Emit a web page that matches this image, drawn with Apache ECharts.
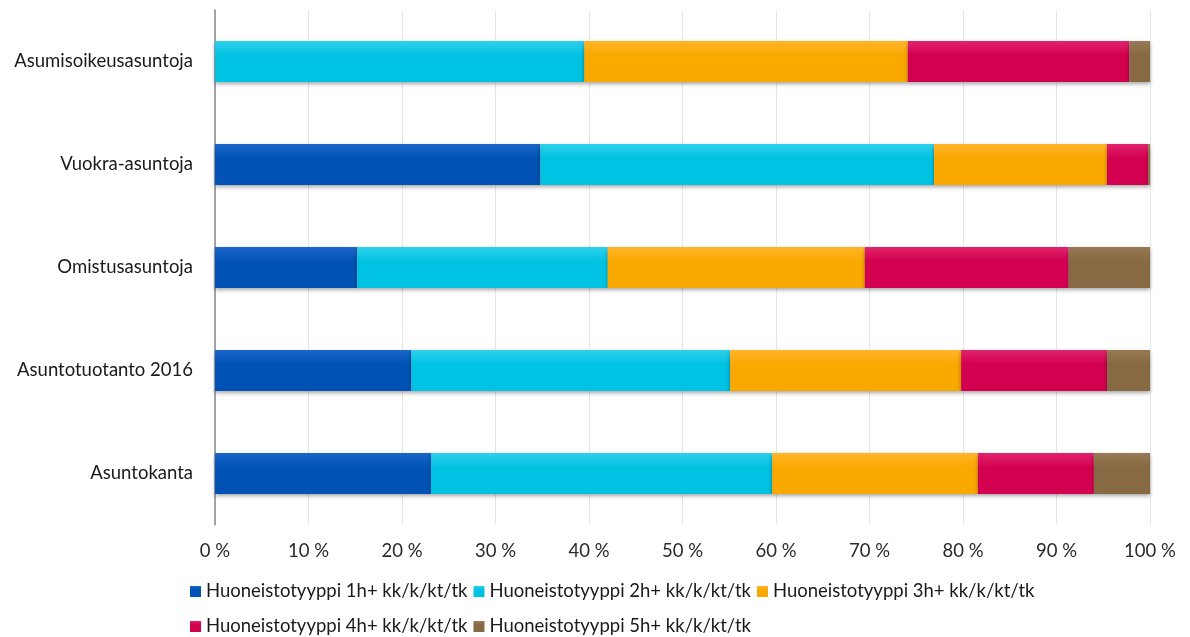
<!DOCTYPE html>
<html>
<head>
<meta charset="utf-8">
<script src="https://cdn.jsdelivr.net/npm/echarts@6/dist/echarts.min.js"></script>
<style>
  html, body { margin: 0; padding: 0; background: #ffffff; }
  #chart { width: 1190px; height: 637px; }
</style>
</head>
<body>
<div id="chart"></div>
<script>
// Housing stock by apartment type (share of each group, %)
const categories = ['Asumisoikeusasuntoja', 'Vuokra-asuntoja', 'Omistusasuntoja', 'Asuntotuotanto 2016', 'Asuntokanta'];
const seriesNames = [
  'Huoneistotyyppi 1h+ kk/k/kt/tk',
  'Huoneistotyyppi 2h+ kk/k/kt/tk',
  'Huoneistotyyppi 3h+ kk/k/kt/tk',
  'Huoneistotyyppi 4h+ kk/k/kt/tk',
  'Huoneistotyyppi 5h+ kk/k/kt/tk'
];
const type1h = [0.0, 34.8, 15.2, 21.0, 23.1];
const type2h = [39.5, 42.1, 26.8, 34.1, 36.5];
const type3h = [34.6, 18.5, 27.5, 24.7, 22.0];
const type4h = [23.7, 4.4, 21.8, 15.6, 12.4];
const type5h = [2.2, 0.2, 8.7, 4.6, 6.0];
const xTicks = [0, 10, 20, 30, 40, 50, 60, 70, 80, 90, 100];

const colors = [
  ['#1b66c9', '#0052b4'],
  ['#2fd0ea', '#00c2e2'],
  ['#ffb52a', '#f9a800'],
  ['#e0246a', '#d30050'],
  ['#977a55', '#876a43']
];
const values = [type1h, type2h, type3h, type4h, type5h];

const chart = echarts.init(document.getElementById('chart'));
const font = 'Lato';

const series = seriesNames.map((name, i) => ({
  name: name,
  type: 'bar',
  stack: 'total',
  barWidth: 41,
  data: values[i],
  itemStyle: {
    color: new echarts.graphic.LinearGradient(0, 0, 0, 1, [
      { offset: 0, color: colors[i][0] },
      { offset: 0.35, color: colors[i][1] },
      { offset: 1, color: colors[i][1] }
    ]),
    shadowColor: 'rgba(0,0,0,0.35)',
    shadowBlur: 4,
    shadowOffsetY: 2
  },
  emphasis: { disabled: true }
}));

const legendText = { fontFamily: font, fontSize: 18.5, color: '#1a1a1a' };

chart.setOption({
  animation: false,
  color: colors.map(c => c[1]),
  grid: { left: 215, right: 40, top: 10, bottom: 112, containLabel: false },
  legend: [
    {
      data: seriesNames.slice(0, 3),
      left: 185, top: 577,
      itemWidth: 11, itemHeight: 11, itemGap: 6,
      icon: 'rect',
      textStyle: legendText
    },
    {
      data: seriesNames.slice(3),
      left: 185, top: 612,
      itemWidth: 11, itemHeight: 11, itemGap: 6,
      icon: 'rect',
      textStyle: legendText
    }
  ],
  xAxis: {
    type: 'value',
    min: xTicks[0],
    max: xTicks[xTicks.length - 1],
    interval: 10,
    axisLine: { show: false },
    axisTick: { show: false },
    splitLine: { show: true, lineStyle: { color: '#e6e6e6', width: 1 } },
    axisLabel: {
      margin: 17,
      fontFamily: font, fontSize: 18.5, color: '#2a2a2a',
      formatter: v => v + ' %'
    }
  },
  yAxis: {
    type: 'category',
    data: categories,
    inverse: true,
    axisLine: { show: true, lineStyle: { color: '#888888', width: 1.5 } },
    axisTick: { show: false },
    axisLabel: { margin: 22, fontFamily: font, fontSize: 18.5, color: '#1a1a1a' }
  },
  series: series
});
</script>
</body>
</html>
